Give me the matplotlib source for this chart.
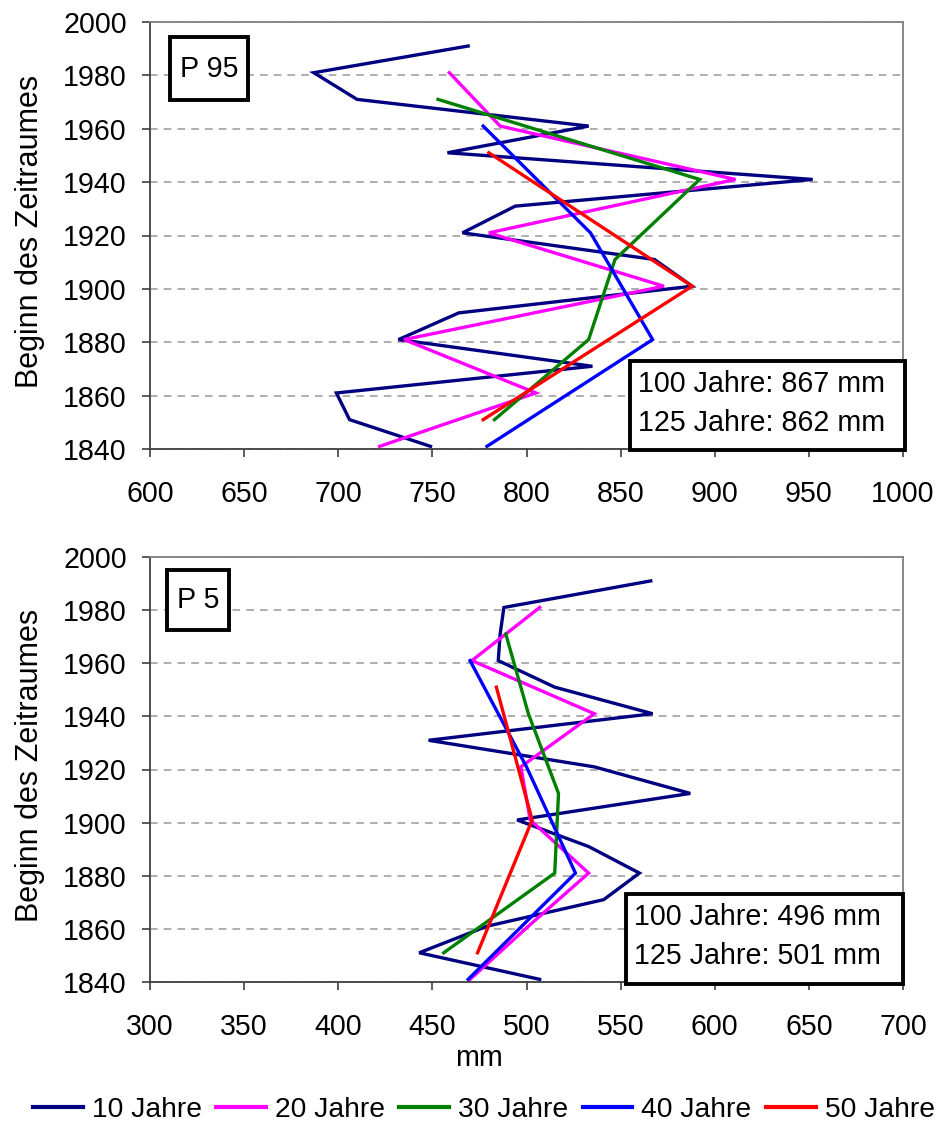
import matplotlib
matplotlib.use("Agg")
import matplotlib.pyplot as plt
from matplotlib.patches import Rectangle

plt.rcParams['font.family'] = ['Liberation Sans', 'DejaVu Sans']

# Beginn des Zeitraumes je Fensterlaenge
years10 = [1841, 1851, 1861, 1871, 1881, 1891, 1901, 1911, 1921, 1931, 1941, 1951, 1961, 1971, 1981, 1991]
years20 = [1841, 1861, 1881, 1901, 1921, 1941, 1961, 1981]
years30 = [1851, 1881, 1911, 1941, 1971]
years40 = [1841, 1881, 1921, 1961]
years50 = [1851, 1901, 1951]

# P 95 (mm)
p95_10 = [749, 706, 699, 835, 732, 764, 888, 868, 766, 794, 952, 758, 833, 710, 687, 769]
p95_20 = [722, 805, 735, 873, 780, 911, 786, 759]
p95_30 = [783, 833, 847, 892, 753]
p95_40 = [779, 867, 834, 777]
p95_50 = [777, 888, 780]

# P 5 (mm)
p5_10 = [507, 443, 479, 541, 560, 533, 495, 587, 536, 448, 567, 515, 485, 486, 488, 566]
p5_20 = [470, 501, 533, 502, 497, 536, 471, 507]
p5_30 = [456, 515, 517, 501, 489]
p5_40 = [469, 526, 500, 470]
p5_50 = [474, 503, 484]

labels = ['10 Jahre', '20 Jahre', '30 Jahre', '40 Jahre', '50 Jahre']
colors = ['#000080', '#FF00FF', '#008000', '#0000FF', '#FF0000']
years = [years10, years20, years30, years40, years50]

FS = 20.6

fig = plt.figure(figsize=(9.36, 11.22), dpi=100)
ax1 = fig.add_axes([150 / 936, 1 - 449 / 1122, 753 / 936, 427 / 1122])
ax2 = fig.add_axes([150 / 936, 1 - 982 / 1122, 753 / 936, 425 / 1122])


def panel(ax, series, xlim, xticks, tag, tagbox, stats, statbox):
    for y, v, c, lab in zip(years, series, colors, labels):
        ax.plot(v, y, color=c, lw=2.4, label=lab, solid_joinstyle='miter')
    ax.set_xlim(*xlim)
    ax.set_ylim(1840, 2000)
    ax.set_xticks(xticks)
    ax.set_yticks(range(1840, 2001, 20))
    ax.tick_params(labelsize=FS, direction='out', length=5.8, width=1.2, colors='#404040',
                   labelcolor='black')
    ax.tick_params(axis='x', pad=16.5)
    ax.tick_params(axis='y', pad=10.8)
    ax.yaxis.grid(True, ls=(0, (5, 4)), color='#999999', lw=1.1)
    ax.set_axisbelow(True)
    for s in ['left', 'bottom']:
        ax.spines[s].set_color('#404040')
        ax.spines[s].set_linewidth(1.3)
    for s in ['top', 'right']:
        ax.spines[s].set_color('#808080')
        ax.spines[s].set_linewidth(1.3)
    ax.set_ylabel('Beginn des Zeitraumes', fontsize=22)
    ax.yaxis.set_label_coords(-0.1394, 0.51)

    x0, y0, x1, y1 = tagbox
    ax.add_patch(Rectangle((x0, y0), x1 - x0, y1 - y0, transform=ax.transAxes,
                           fill=True, fc='white', ec='black', lw=2.8, clip_on=False, zorder=5))
    ax.text((x0 + x1) / 2, (y0 + y1) / 2, tag, transform=ax.transAxes, fontsize=FS,
            ha='center', va='center', zorder=6)

    x0, y0, x1, y1 = statbox
    ax.add_patch(Rectangle((x0, y0), x1 - x0, y1 - y0, transform=ax.transAxes,
                           fill=True, fc='white', ec='black', lw=2.8, clip_on=False, zorder=5))
    ax.text(x0 + 0.011, (y0 + y1) / 2 + 0.005, stats, transform=ax.transAxes, fontsize=FS,
            ha='left', va='center', linespacing=1.5, zorder=6)


panel(ax1, [p95_10, p95_20, p95_30, p95_40, p95_50], (600, 1000), range(600, 1001, 50),
      'P 95', (0.0266, 0.817, 0.1301, 0.965),
      '100 Jahre: 867 mm\n125 Jahre: 862 mm', (0.637, -0.002, 1.003, 0.206))
panel(ax2, [p5_10, p5_20, p5_30, p5_40, p5_50], (300, 700), range(300, 701, 50),
      'P 5', (0.0232, 0.828, 0.1043, 0.969),
      '100 Jahre: 496 mm\n125 Jahre: 501 mm', (0.632, -0.005, 1.0, 0.207))

fig.text(479 / 936, 1 - 1058 / 1122, 'mm', fontsize=FS, ha='center', va='center')

handles, labs = ax2.get_legend_handles_labels()
leg = fig.legend(handles, labs, loc='center', bbox_to_anchor=(484 / 936, 1 - 1110 / 1122), ncol=5,
                 frameon=False, fontsize=20.3, handlelength=1.77, handletextpad=0.32,
                 columnspacing=0.5, borderaxespad=0, borderpad=0)
for h in leg.get_lines():
    h.set_linewidth(3.0)

fig.savefig('out.png', dpi=100)
